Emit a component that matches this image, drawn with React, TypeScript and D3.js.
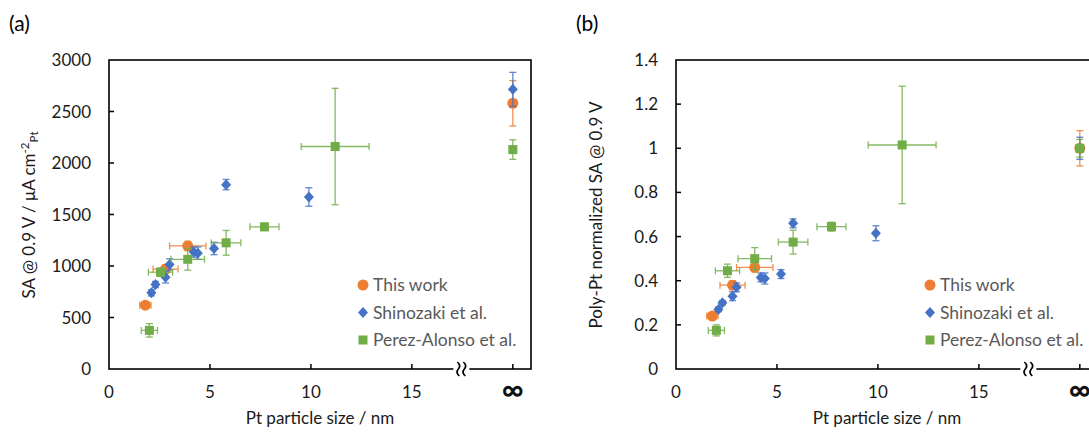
import React from 'react';
import * as d3 from 'd3';

// x position used for the "infinite" particle size (bulk Pt)
const INF = 20;

const xTicks = [0, 5, 10, 15];
const yTicksA = [0, 500, 1000, 1500, 2000, 2500, 3000];
const yTicksB = [0, 0.2, 0.4, 0.6, 0.8, 1, 1.2, 1.4];

// This work
const workX = [1.8, 2.8, 3.9, INF];
const workXErr = [0.28, 0.62, 0.9, 0];
const workYA = [620, 970, 1195, 2580];
const workYErrA = [25, 40, 45, 220];
const workYB = [0.24, 0.38, 0.46, 1.0];
const workYErrB = [0.01, 0.02, 0.02, 0.08];

// Shinozaki et al.
const shinX = [2.1, 2.3, 2.8, 3.0, 4.2, 4.4, 5.2, 5.8, 9.9, INF];
const shinYA = [740, 820, 890, 1015, 1135, 1125, 1170, 1790, 1670, 2715];
const shinYErrA = [30, 30, 55, 55, 50, 60, 60, 50, 90, 165];
const shinYB = [0.27, 0.3, 0.33, 0.37, 0.415, 0.41, 0.43, 0.66, 0.615, 1.0];
const shinYErrB = [0.01, 0.01, 0.02, 0.02, 0.02, 0.025, 0.02, 0.02, 0.034, 0.05];

// Perez-Alonso et al.
const perezX = [2.0, 2.55, 3.9, 5.8, 7.7, 11.2, INF];
const perezXErr = [0.4, 0.6, 0.83, 0.73, 0.72, 1.68, 0];
const perezYA = [375, 940, 1065, 1225, 1380, 2160, 2130];
const perezYErrA = [65, 40, 105, 120, 35, 565, 95];
const perezYB = [0.175, 0.445, 0.5, 0.575, 0.645, 1.015, 1.0];
const perezYErrB = [0.025, 0.03, 0.05, 0.054, 0.02, 0.266, 0.04];

const ORANGE = '#ED7D31';
const BLUE = '#4472C4';
const GREEN = '#70AD47';
const FONT = 'Lato, "Open Sans", sans-serif';

type Pt = { x: number; y: number; xe: number; ye: number };
type Series = { name: string; color: string; shape: string; pts: Pt[] };

const build = (xs: number[], xe: number[] | null, ys: number[], ye: number[]): Pt[] =>
  xs.map((x, i) => ({ x, y: ys[i], xe: xe ? xe[i] : 0, ye: ye[i] }));

const Marker = ({ shape, color, cx, cy }: { shape: string; color: string; cx: number; cy: number }) => {
  if (shape === 'circle') return <circle cx={cx} cy={cy} r={5.5} fill={color} />;
  if (shape === 'diamond')
    return <path d={`M${cx},${cy - 5.5}L${cx + 5},${cy}L${cx},${cy + 5.5}L${cx - 5},${cy}Z`} fill={color} />;
  return <rect x={cx - 4.5} y={cy - 4.5} width={9} height={9} fill={color} />;
};

const Panel = ({ label, left, yMax, yTicks, series, yTitle, fmt }: any) => {
  const top = 60;
  const bottom = 369;
  const width = 422;
  const x = d3.scaleLinear().domain([0, 20.9]).range([left, left + width]);
  const y = d3.scaleLinear().domain([0, yMax]).range([bottom, top]);
  const brk = x(17.45);

  return (
    <g fontFamily={FONT}>
      <text x={left - 100} y={31} fontSize={21} fill="#000">{label}</text>
      <rect x={left} y={top} width={width} height={bottom - top} fill="none" stroke="#000" strokeWidth={1.6} />
      {/* axis break */}
      <rect x={brk - 8} y={bottom - 2} width={16} height={4} fill="#fff" />
      {[-3, 3].map((d) => (
        <path key={d}
          d={`M${brk + d - 1},${bottom - 7} Q${brk + d + 3},${bottom - 3.5} ${brk + d},${bottom} Q${brk + d - 3},${bottom + 3.5} ${brk + d + 1},${bottom + 7}`}
          fill="none" stroke="#000" strokeWidth={1.6} />
      ))}
      {yTicks.map((t: number) => (
        <g key={t}>
          {t > 0 && t < yMax && <line x1={left} x2={left + 5} y1={y(t)} y2={y(t)} stroke="#000" strokeWidth={1.5} />}
          <text x={left - 18} y={y(t) + 6} fontSize={17} textAnchor="end" fill="#1a1a1a">{fmt(t)}</text>
        </g>
      ))}
      {[...xTicks, INF].map((t) => (
        <g key={t}>
          {t > 0 && <line x1={x(t)} x2={x(t)} y1={bottom} y2={bottom - 5} stroke="#000" strokeWidth={1.5} />}
          {t === INF ? (
            <text x={x(t)} y={bottom + 31} fontSize={30} fontWeight="bold" textAnchor="middle" fill="#111">∞</text>
          ) : (
            <text x={x(t)} y={bottom + 29} fontSize={17} textAnchor="middle" fill="#1a1a1a">{t}</text>
          )}
        </g>
      ))}
      <text x={left + 211} y={bottom + 55} fontSize={17} textAnchor="middle" fill="#1a1a1a">Pt particle size / nm</text>
      <text transform={`translate(${left - 74},215) rotate(-90)`} fontSize={17} textAnchor="middle" fill="#1a1a1a">{yTitle}</text>

      {series.map((s: Series) => (
        <g key={s.name}>
          {s.pts.map((p, i) => (
            <g key={i} stroke={s.color} strokeWidth={1.3} opacity={0.85}>
              {p.ye > 0 && (
                <>
                  <line x1={x(p.x)} x2={x(p.x)} y1={y(p.y - p.ye)} y2={y(p.y + p.ye)} />
                  <line x1={x(p.x) - 3.5} x2={x(p.x) + 3.5} y1={y(p.y - p.ye)} y2={y(p.y - p.ye)} />
                  <line x1={x(p.x) - 3.5} x2={x(p.x) + 3.5} y1={y(p.y + p.ye)} y2={y(p.y + p.ye)} />
                </>
              )}
              {p.xe > 0 && (
                <>
                  <line x1={x(p.x - p.xe)} x2={x(p.x + p.xe)} y1={y(p.y)} y2={y(p.y)} />
                  <line x1={x(p.x - p.xe)} x2={x(p.x - p.xe)} y1={y(p.y) - 3.5} y2={y(p.y) + 3.5} />
                  <line x1={x(p.x + p.xe)} x2={x(p.x + p.xe)} y1={y(p.y) - 3.5} y2={y(p.y) + 3.5} />
                </>
              )}
            </g>
          ))}
          {s.pts.map((p, i) => (
            <Marker key={i} shape={s.shape} color={s.color} cx={x(p.x)} cy={y(p.y)} />
          ))}
        </g>
      ))}

      {series.map((s: Series, i: number) => (
        <g key={s.name}>
          <Marker shape={s.shape} color={s.color} cx={left + 254} cy={285 + i * 27.5} />
          <text x={left + 264} y={285 + i * 27.5 + 6} fontSize={17.5} fill="#595959">{s.name}</text>
        </g>
      ))}
    </g>
  );
};

const seriesA: Series[] = [
  { name: 'This work', color: ORANGE, shape: 'circle', pts: build(workX, workXErr, workYA, workYErrA) },
  { name: 'Shinozaki et al.', color: BLUE, shape: 'diamond', pts: build(shinX, null, shinYA, shinYErrA) },
  { name: 'Perez-Alonso et al.', color: GREEN, shape: 'square', pts: build(perezX, perezXErr, perezYA, perezYErrA) },
];

const seriesB: Series[] = [
  { name: 'This work', color: ORANGE, shape: 'circle', pts: build(workX, workXErr, workYB, workYErrB) },
  { name: 'Shinozaki et al.', color: BLUE, shape: 'diamond', pts: build(shinX, null, shinYB, shinYErrB) },
  { name: 'Perez-Alonso et al.', color: GREEN, shape: 'square', pts: build(perezX, perezXErr, perezYB, perezYErrB) },
];

const App = () => (
  <svg width={1089} height={432} style={{ position: 'absolute', left: 0, top: 0, background: '#fff' }}>
    <rect width={1089} height={432} fill="#fff" />
    <Panel label="(a)" left={109} yMax={3000} yTicks={yTicksA} series={seriesA} fmt={(t: number) => String(t)}
      yTitle={<>SA @ 0.9 V / μA cm<tspan dy={-6} fontSize={11.5}>-2</tspan><tspan dy={9} fontSize={11.5}>Pt</tspan></>} />
    <Panel label="(b)" left={676} yMax={1.4} yTicks={yTicksB} series={seriesB} fmt={(t: number) => String(t)}
      yTitle="Poly-Pt normalized SA @ 0.9 V" />
  </svg>
);

export default App;
